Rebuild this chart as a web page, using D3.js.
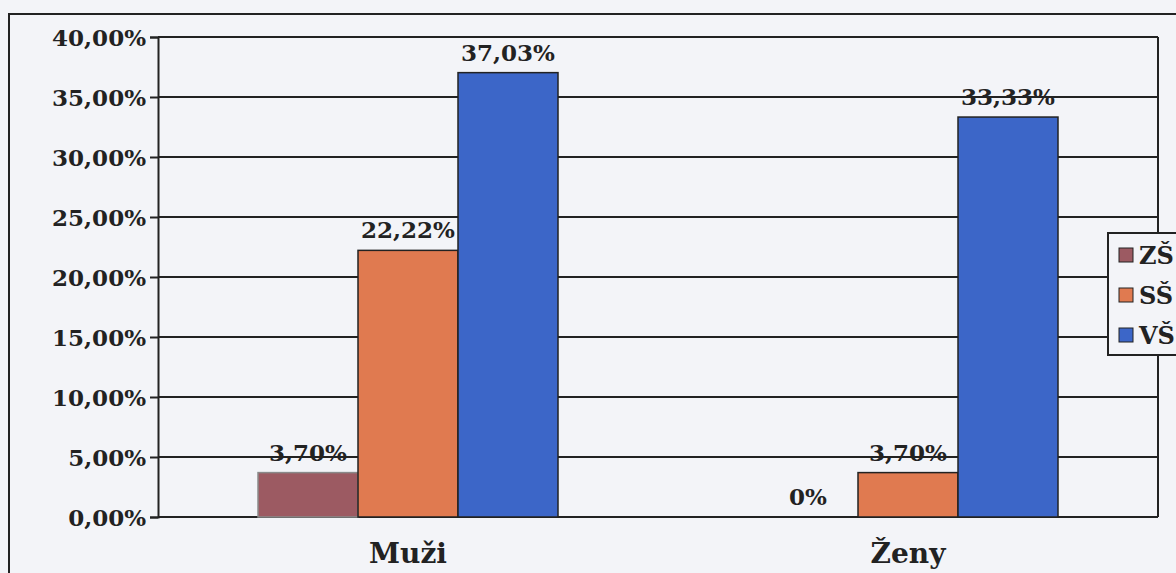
<!DOCTYPE html>
<meta charset="utf-8">
<style>
body { margin: 0; background: #f3f4f8; }
svg { display: block; }
.lbl { font-family: "DejaVu Serif", serif; font-weight: bold; fill: #222; }
</style>
<svg width="1176" height="573"></svg>
<script src="https://cdnjs.cloudflare.com/ajax/libs/d3/7.8.5/d3.min.js"></script>
<script>
// data
var categories = ["Muži", "Ženy"];
var series = ["ZŠ", "SŠ", "VŠ"];
var zs = [3.70, 0];
var ss = [22.22, 3.70];
var vs = [37.03, 33.33];
var yTicks = [0, 5, 10, 15, 20, 25, 30, 35, 40];
var colors = ["#9c5a62", "#e07a50", "#3c66c8"];

var values = [zs, ss, vs];

var svg = d3.select("svg"),
    margin = {left: 158, top: 37},
    w = 1000, h = 480;

function fmt(v) {
  return v === 0 ? "0%" : v.toFixed(2).replace(".", ",") + "%";
}

// outer frame
svg.append("rect")
    .attr("x", 9).attr("y", 14)
    .attr("width", 1300).attr("height", 700)
    .attr("fill", "#f3f4f8")
    .attr("stroke", "#222").attr("stroke-width", 2);

var g = svg.append("g").attr("transform", "translate(" + margin.left + "," + margin.top + ")");

var x0 = d3.scaleBand().domain(categories).range([0, w]);
var x1 = d3.scaleBand().domain(series)
    .range([x0.bandwidth() * 0.2, x0.bandwidth() * 0.8]);
var y = d3.scaleLinear().domain([0, 40]).range([h, 0]);

// gridlines
g.selectAll(".grid")
  .data(yTicks)
  .enter().append("line")
    .attr("x1", 0).attr("x2", w)
    .attr("y1", function(d) { return y(d); })
    .attr("y2", function(d) { return y(d); })
    .attr("stroke", "#222").attr("stroke-width", 2);

// plot border (right)
g.append("line")
    .attr("x1", w).attr("x2", w).attr("y1", 0).attr("y2", h)
    .attr("stroke", "#222").attr("stroke-width", 2);

// y axis
var yAxis = g.append("g")
    .call(d3.axisLeft(y).tickValues(yTicks).tickSize(8).tickPadding(4)
      .tickFormat(function(d) { return d.toFixed(2).replace(".", ",") + "%"; }));
yAxis.select(".domain").attr("stroke", "#222").attr("stroke-width", 2);
yAxis.selectAll(".tick line").attr("stroke", "#222").attr("stroke-width", 2);
yAxis.selectAll(".tick text")
    .attr("class", "lbl")
    .attr("dy", "0.36em")
    .style("font-size", "23px");

// bars
series.forEach(function(s, si) {
  var grp = g.append("g");
  grp.selectAll("rect")
    .data(categories)
    .enter().append("rect")
      .attr("x", function(c) { return x0(c) + x1(s); })
      .attr("width", x1.bandwidth())
      .attr("y", function(c, i) { return y(values[si][i]); })
      .attr("height", function(c, i) { return h - y(values[si][i]); })
      .attr("fill", colors[si])
      .attr("stroke", si === 0 ? "#8a8a8a" : "#222")
      .attr("stroke-width", 1.5);
  grp.selectAll("text")
    .data(categories)
    .enter().append("text")
      .attr("class", "lbl")
      .attr("x", function(c) { return x0(c) + x1(s) + x1.bandwidth() / 2; })
      .attr("y", function(c, i) { return y(values[si][i]) - 12; })
      .attr("text-anchor", "middle")
      .style("font-size", "23px")
      .text(function(c, i) { return fmt(values[si][i]); });
});

// category labels
g.selectAll(".cat")
  .data(categories)
  .enter().append("text")
    .attr("class", "lbl")
    .attr("x", function(c) { return x0(c) + x0.bandwidth() / 2; })
    .attr("y", h + 46)
    .attr("text-anchor", "middle")
    .style("font-size", "28px")
    .text(function(c) { return c; });

// legend
var lg = svg.append("g").attr("transform", "translate(1108,233)");
lg.append("rect")
    .attr("width", 120).attr("height", 122)
    .attr("fill", "#f3f4f8")
    .attr("stroke", "#222").attr("stroke-width", 2);
series.forEach(function(s, i) {
  var cy = 22 + i * 40;
  lg.append("rect")
    .attr("x", 11).attr("y", cy - 7)
    .attr("width", 14).attr("height", 14)
    .attr("fill", colors[i])
    .attr("stroke", "#222").attr("stroke-width", 1);
  lg.append("text")
    .attr("class", "lbl")
    .attr("x", 31).attr("y", cy + 9)
    .style("font-size", "24px")
    .text(s);
});
</script>
